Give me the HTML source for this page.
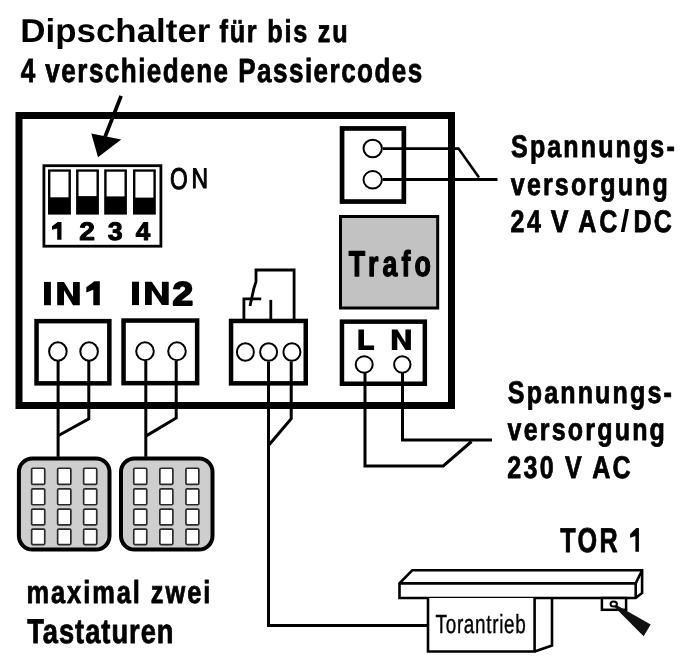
<!DOCTYPE html>
<html><head><meta charset="utf-8"><style>
html,body{margin:0;padding:0;background:#fff;width:695px;height:665px;overflow:hidden}
svg{display:block;will-change:transform}
text{font-family:"Liberation Sans",sans-serif;fill:#000;text-rendering:geometricPrecision}
</style></head><body>
<svg width="695" height="665" viewBox="0 0 695 665">
<rect x="19" y="115.5" width="432.5" height="290" fill="none" stroke="#000" stroke-width="7"/>
<line x1="121.1" y1="95.8" x2="105" y2="137" stroke="#000" stroke-width="3.7"/>
<polygon points="91.3,133.5 121.2,139.4 98,157.2" fill="#000"/>
<rect x="43.9" y="165.7" width="117" height="80.5" fill="none" stroke="#000" stroke-width="2.8"/>
<rect x="48.0" y="169.4" width="22.9" height="45.2" fill="#000"/>
<rect x="50.4" y="171.7" width="18.1" height="25.6" fill="#fff"/>
<rect x="76.1" y="169.4" width="22.8" height="45.2" fill="#000"/>
<rect x="78.5" y="171.7" width="18.0" height="24.4" fill="#fff"/>
<rect x="104.2" y="169.4" width="22.7" height="45.2" fill="#000"/>
<rect x="106.6" y="171.7" width="17.9" height="24.7" fill="#fff"/>
<rect x="133.0" y="169.4" width="22.8" height="45.2" fill="#000"/>
<rect x="135.4" y="171.7" width="18.0" height="25.9" fill="#fff"/>
<rect x="36.55" y="321.15" width="72.80" height="62.20" fill="#fff" stroke="#000" stroke-width="4.5"/>
<rect x="123.55" y="320.55" width="73.60" height="62.60" fill="#fff" stroke="#000" stroke-width="4.5"/>
<rect x="231.05" y="320.95" width="74.70" height="62.40" fill="#fff" stroke="#000" stroke-width="4.5"/>
<rect x="342.05" y="128.45" width="61.80" height="73.10" fill="#fff" stroke="#000" stroke-width="4.7"/>
<rect x="341.95" y="321.65" width="82.90" height="62.10" fill="#fff" stroke="#000" stroke-width="4.5"/>
<rect x="340.5" y="216.5" width="97.2" height="91.5" fill="#c2c2c2" stroke="#000" stroke-width="3"/>
<path d="M58.1 361 V456.8" fill="none" stroke="#000" stroke-width="3" stroke-linejoin="miter"/>
<path d="M88.8 361 V418.9 L58.1 435.8" fill="none" stroke="#000" stroke-width="3" stroke-linejoin="miter"/>
<path d="M145.8 361 V456.8" fill="none" stroke="#000" stroke-width="3" stroke-linejoin="miter"/>
<path d="M176.2 361 V418 L145.8 436.1" fill="none" stroke="#000" stroke-width="3" stroke-linejoin="miter"/>
<path d="M268.5 361.5 V625.6 H428.5" fill="none" stroke="#000" stroke-width="3" stroke-linejoin="miter"/>
<path d="M291.2 361.5 V418.6 L268.5 445.5" fill="none" stroke="#000" stroke-width="3" stroke-linejoin="miter"/>
<path d="M365 373 V466 H443.3 L471.5 441.5" fill="none" stroke="#000" stroke-width="3" stroke-linejoin="miter"/>
<path d="M402.5 373 V440 H492" fill="none" stroke="#000" stroke-width="3" stroke-linejoin="miter"/>
<path d="M383 148.6 H458.5 L479 177.5" fill="none" stroke="#000" stroke-width="2.6"/>
<path d="M383 179.6 H497.5" fill="none" stroke="#000" stroke-width="3" stroke-linejoin="miter"/>
<ellipse cx="57.9" cy="351.5" rx="8.8" ry="9.2" fill="#fff" stroke="#000" stroke-width="2"/>
<ellipse cx="89.1" cy="351.5" rx="8.8" ry="9.2" fill="#fff" stroke="#000" stroke-width="2"/>
<ellipse cx="145" cy="351.3" rx="8.8" ry="9.0" fill="#fff" stroke="#000" stroke-width="2"/>
<ellipse cx="177" cy="351.3" rx="8.8" ry="9.0" fill="#fff" stroke="#000" stroke-width="2"/>
<ellipse cx="245.4" cy="352" rx="8.5" ry="8.8" fill="#fff" stroke="#000" stroke-width="2"/>
<ellipse cx="268.6" cy="352" rx="8.5" ry="8.8" fill="#fff" stroke="#000" stroke-width="2"/>
<ellipse cx="291.9" cy="352" rx="8.5" ry="8.8" fill="#fff" stroke="#000" stroke-width="2"/>
<ellipse cx="372.7" cy="148.5" rx="9.2" ry="8.7" fill="#fff" stroke="#000" stroke-width="2"/>
<ellipse cx="372.7" cy="179.8" rx="9.2" ry="8.7" fill="#fff" stroke="#000" stroke-width="2"/>
<ellipse cx="364.2" cy="364.5" rx="8.5" ry="8.3" fill="#fff" stroke="#000" stroke-width="2"/>
<ellipse cx="402.3" cy="364.5" rx="8.2" ry="8.3" fill="#fff" stroke="#000" stroke-width="2"/>
<path d="M243.9 319 V298.9 H261.2" fill="none" stroke="#000" stroke-width="2.8"/>
<path d="M250 306 L253.7 289.1 L256 281.6 V270 H294.1 V319" fill="none" stroke="#000" stroke-width="2.8"/>
<path d="M270.8 299.9 V319" fill="none" stroke="#000" stroke-width="2.8"/>
<rect x="18.9" y="458.5" width="90.6" height="91.1" rx="13.5" ry="13.5" fill="#cecece" stroke="#000" stroke-width="4"/>
<rect x="31.65" y="468.25" width="13.10" height="16.10" rx="1.2" fill="#fff" stroke="#2a2a2a" stroke-width="1.7"/>
<rect x="31.65" y="488.85" width="13.10" height="15.90" rx="1.2" fill="#fff" stroke="#2a2a2a" stroke-width="1.7"/>
<rect x="31.65" y="509.05" width="13.10" height="15.90" rx="1.2" fill="#fff" stroke="#2a2a2a" stroke-width="1.7"/>
<rect x="31.65" y="529.05" width="13.10" height="15.50" rx="1.2" fill="#fff" stroke="#2a2a2a" stroke-width="1.7"/>
<rect x="57.65" y="468.25" width="13.20" height="16.10" rx="1.2" fill="#fff" stroke="#2a2a2a" stroke-width="1.7"/>
<rect x="57.65" y="488.85" width="13.20" height="15.90" rx="1.2" fill="#fff" stroke="#2a2a2a" stroke-width="1.7"/>
<rect x="57.65" y="509.05" width="13.20" height="15.90" rx="1.2" fill="#fff" stroke="#2a2a2a" stroke-width="1.7"/>
<rect x="57.65" y="529.05" width="13.20" height="15.50" rx="1.2" fill="#fff" stroke="#2a2a2a" stroke-width="1.7"/>
<rect x="83.65" y="468.25" width="13.10" height="16.10" rx="1.2" fill="#fff" stroke="#2a2a2a" stroke-width="1.7"/>
<rect x="83.65" y="488.85" width="13.10" height="15.90" rx="1.2" fill="#fff" stroke="#2a2a2a" stroke-width="1.7"/>
<rect x="83.65" y="509.05" width="13.10" height="15.90" rx="1.2" fill="#fff" stroke="#2a2a2a" stroke-width="1.7"/>
<rect x="83.65" y="529.05" width="13.10" height="15.50" rx="1.2" fill="#fff" stroke="#2a2a2a" stroke-width="1.7"/>
<rect x="121.0" y="458.5" width="91.5" height="91.1" rx="13.5" ry="13.5" fill="#cecece" stroke="#000" stroke-width="4"/>
<rect x="133.75" y="468.25" width="13.00" height="16.10" rx="1.2" fill="#fff" stroke="#2a2a2a" stroke-width="1.7"/>
<rect x="133.75" y="488.85" width="13.00" height="15.90" rx="1.2" fill="#fff" stroke="#2a2a2a" stroke-width="1.7"/>
<rect x="133.75" y="509.05" width="13.00" height="15.90" rx="1.2" fill="#fff" stroke="#2a2a2a" stroke-width="1.7"/>
<rect x="133.75" y="529.05" width="13.00" height="15.50" rx="1.2" fill="#fff" stroke="#2a2a2a" stroke-width="1.7"/>
<rect x="159.85" y="468.25" width="13.00" height="16.10" rx="1.2" fill="#fff" stroke="#2a2a2a" stroke-width="1.7"/>
<rect x="159.85" y="488.85" width="13.00" height="15.90" rx="1.2" fill="#fff" stroke="#2a2a2a" stroke-width="1.7"/>
<rect x="159.85" y="509.05" width="13.00" height="15.90" rx="1.2" fill="#fff" stroke="#2a2a2a" stroke-width="1.7"/>
<rect x="159.85" y="529.05" width="13.00" height="15.50" rx="1.2" fill="#fff" stroke="#2a2a2a" stroke-width="1.7"/>
<rect x="185.95" y="468.25" width="12.90" height="16.10" rx="1.2" fill="#fff" stroke="#2a2a2a" stroke-width="1.7"/>
<rect x="185.95" y="488.85" width="12.90" height="15.90" rx="1.2" fill="#fff" stroke="#2a2a2a" stroke-width="1.7"/>
<rect x="185.95" y="509.05" width="12.90" height="15.90" rx="1.2" fill="#fff" stroke="#2a2a2a" stroke-width="1.7"/>
<rect x="185.95" y="529.05" width="12.90" height="15.50" rx="1.2" fill="#fff" stroke="#2a2a2a" stroke-width="1.7"/>
<path d="M399.5 598 V583.4 L412.2 570.3 H642.1 V592.9 L635.7 598 Z" fill="#fff" stroke="#000" stroke-width="2.6"/>
<path d="M399.5 583.4 H635.7 L642.1 570.3 M635.7 583.4 V598" fill="none" stroke="#000" stroke-width="2.6" stroke-linejoin="miter"/>
<path d="M428 598 V651.5 H534.6 V598 M534.6 651.5 L552 645.5 V598" fill="#fff" stroke="#000" stroke-width="2.6"/>
<rect x="601.9" y="598" width="24.2" height="11.8" fill="#fff" stroke="#000" stroke-width="2.5"/>
<polygon points="615.5,604.5 650.7,624.6 643.6,636.3 614.5,607" fill="#111"/>
<ellipse cx="613.7" cy="604" rx="3.2" ry="2.5" fill="#fff" stroke="#000" stroke-width="2"/>
<polygon points="44.00,281.90 50.90,281.90 50.90,305.20 44.00,305.20" fill="#000"/>
<polygon points="57.20,281.90 64.00,281.90 73.00,296.81 73.00,281.90 79.80,281.90 79.80,305.20 73.00,305.20 64.00,290.29 64.00,305.20 57.20,305.20" fill="#000"/>
<polygon points="94.40,281.20 99.80,281.20 99.80,305.30 93.30,305.30 93.30,289.80 86.30,292.40 86.30,287.20" fill="#000"/>
<polygon points="132.00,281.70 139.00,281.70 139.00,305.10 132.00,305.10" fill="#000"/>
<polygon points="145.00,281.70 151.80,281.70 161.90,296.68 161.90,281.70 168.70,281.70 168.70,305.10 161.90,305.10 151.80,290.12 151.80,305.10 145.00,305.10" fill="#000"/>
<polygon points="358.40,329.60 364.00,329.60 364.00,345.40 374.10,345.40 374.10,349.90 358.40,349.90" fill="#000"/>
<polygon points="391.80,329.60 397.30,329.60 405.40,342.59 405.40,329.60 410.90,329.60 410.90,349.90 405.40,349.90 397.30,336.91 397.30,349.90 391.80,349.90" fill="#000"/>
<polygon points="57.70,222.00 61.50,222.00 61.50,239.70 57.20,239.70 57.20,228.40 52.00,229.80 52.00,226.30" fill="#000"/>
<polygon points="636.30,528.10 638.90,528.10 638.90,551.80 635.40,551.80 635.40,536.00 630.10,537.80 630.10,534.10" fill="#000"/>
<polygon points="620.80,232.00 624.50,232.00 629.00,208.90 625.30,208.90" fill="#000"/>
<text x="20.22" y="42.20" font-size="33.17" font-weight="bold" textLength="190.18" lengthAdjust="spacingAndGlyphs">Dipschalter</text>
<text transform="translate(219.47 42.30) scale(0.8 1)" font-size="31.50" font-weight="bold" textLength="160.13" lengthAdjust="spacing" stroke="#000" stroke-width="0.80" stroke-linejoin="round">für bis zu</text>
<text transform="translate(20.71 82.20) scale(0.78 1)" font-size="33.41" font-weight="bold" textLength="514.88" lengthAdjust="spacing" stroke="#000" stroke-width="0.80" stroke-linejoin="round">4 verschiedene Passiercodes</text>
<text x="169.92" y="188.60" font-size="29.88" font-weight="normal" textLength="17.71" lengthAdjust="spacingAndGlyphs" stroke="#000" stroke-width="1.10" stroke-linejoin="round">O</text>
<text x="191.38" y="188.30" font-size="28.45" font-weight="normal" textLength="16.56" lengthAdjust="spacingAndGlyphs" stroke="#000" stroke-width="1.10" stroke-linejoin="round">N</text>
<text x="79.19" y="240.00" font-size="25.40" font-weight="bold" textLength="15.70" lengthAdjust="spacingAndGlyphs" stroke="#000" stroke-width="1.00" stroke-linejoin="round">2</text>
<text x="107.83" y="240.00" font-size="25.40" font-weight="bold" textLength="14.94" lengthAdjust="spacingAndGlyphs" stroke="#000" stroke-width="1.00" stroke-linejoin="round">3</text>
<text x="135.78" y="240.00" font-size="25.40" font-weight="bold" textLength="14.49" lengthAdjust="spacingAndGlyphs" stroke="#000" stroke-width="1.00" stroke-linejoin="round">4</text>
<text transform="translate(348.86 276.30) scale(0.75 1)" font-size="35.74" font-weight="bold" textLength="109.49" lengthAdjust="spacing" stroke="#000" stroke-width="1.30" stroke-linejoin="round">Trafo</text>
<text transform="translate(511.08 157.00) scale(0.8 1)" font-size="31.30" font-weight="bold" textLength="204.58" lengthAdjust="spacing" stroke="#000" stroke-width="0.80" stroke-linejoin="round">Spannungs-</text>
<text transform="translate(510.86 195.00) scale(0.8 1)" font-size="31.30" font-weight="bold" textLength="196.19" lengthAdjust="spacing" stroke="#000" stroke-width="0.80" stroke-linejoin="round">versorgung</text>
<text transform="translate(507.87 402.50) scale(0.8 1)" font-size="31.30" font-weight="bold" textLength="204.92" lengthAdjust="spacing" stroke="#000" stroke-width="0.80" stroke-linejoin="round">Spannungs-</text>
<text transform="translate(507.62 440.40) scale(0.8 1)" font-size="31.30" font-weight="bold" textLength="196.62" lengthAdjust="spacing" stroke="#000" stroke-width="0.80" stroke-linejoin="round">versorgung</text>
<text transform="translate(507.34 477.80) scale(0.8 1)" font-size="31.30" font-weight="bold" textLength="154.20" lengthAdjust="spacing" stroke="#000" stroke-width="0.80" stroke-linejoin="round">230 V AC</text>
<text transform="translate(26.46 602.70) scale(0.8 1)" font-size="31.81" font-weight="bold" textLength="229.93" lengthAdjust="spacing" stroke="#000" stroke-width="0.80" stroke-linejoin="round">maximal zwei</text>
<text transform="translate(27.15 642.80) scale(0.8 1)" font-size="34.15" font-weight="bold" textLength="182.95" lengthAdjust="spacing" stroke="#000" stroke-width="0.80" stroke-linejoin="round">Tastaturen</text>
<text transform="translate(435.54 632.50) scale(0.72 1)" font-size="26.28" font-weight="normal" textLength="125.39" lengthAdjust="spacing" stroke="#000" stroke-width="0.40" stroke-linejoin="round">Torantrieb</text>
<text x="172.49" y="305.30" font-size="32.96" font-weight="bold" textLength="20.66" lengthAdjust="spacingAndGlyphs" stroke="#000" stroke-width="1.80" stroke-linejoin="round">2</text>
<text transform="translate(560.13 551.90) scale(0.73 1)" font-size="34.48" font-weight="bold" textLength="78.75" lengthAdjust="spacing" stroke="#000" stroke-width="0.80" stroke-linejoin="round">TOR</text>
<text transform="translate(510.58 232.00) scale(0.8 1)" font-size="31.30" font-weight="bold" textLength="37.91" lengthAdjust="spacing" stroke="#000" stroke-width="0.80" stroke-linejoin="round">24</text>
<text x="550.87" y="232.00" font-size="31.30" font-weight="bold" textLength="17.76" lengthAdjust="spacingAndGlyphs" stroke="#000" stroke-width="0.80" stroke-linejoin="round">V</text>
<text transform="translate(578.19 232.00) scale(0.8 1)" font-size="31.30" font-weight="bold" textLength="48.84" lengthAdjust="spacing" stroke="#000" stroke-width="0.80" stroke-linejoin="round">AC</text>
<text transform="translate(633.47 232.00) scale(0.8 1)" font-size="31.30" font-weight="bold" textLength="47.89" lengthAdjust="spacing" stroke="#000" stroke-width="0.80" stroke-linejoin="round">DC</text>
</svg>
</body></html>
